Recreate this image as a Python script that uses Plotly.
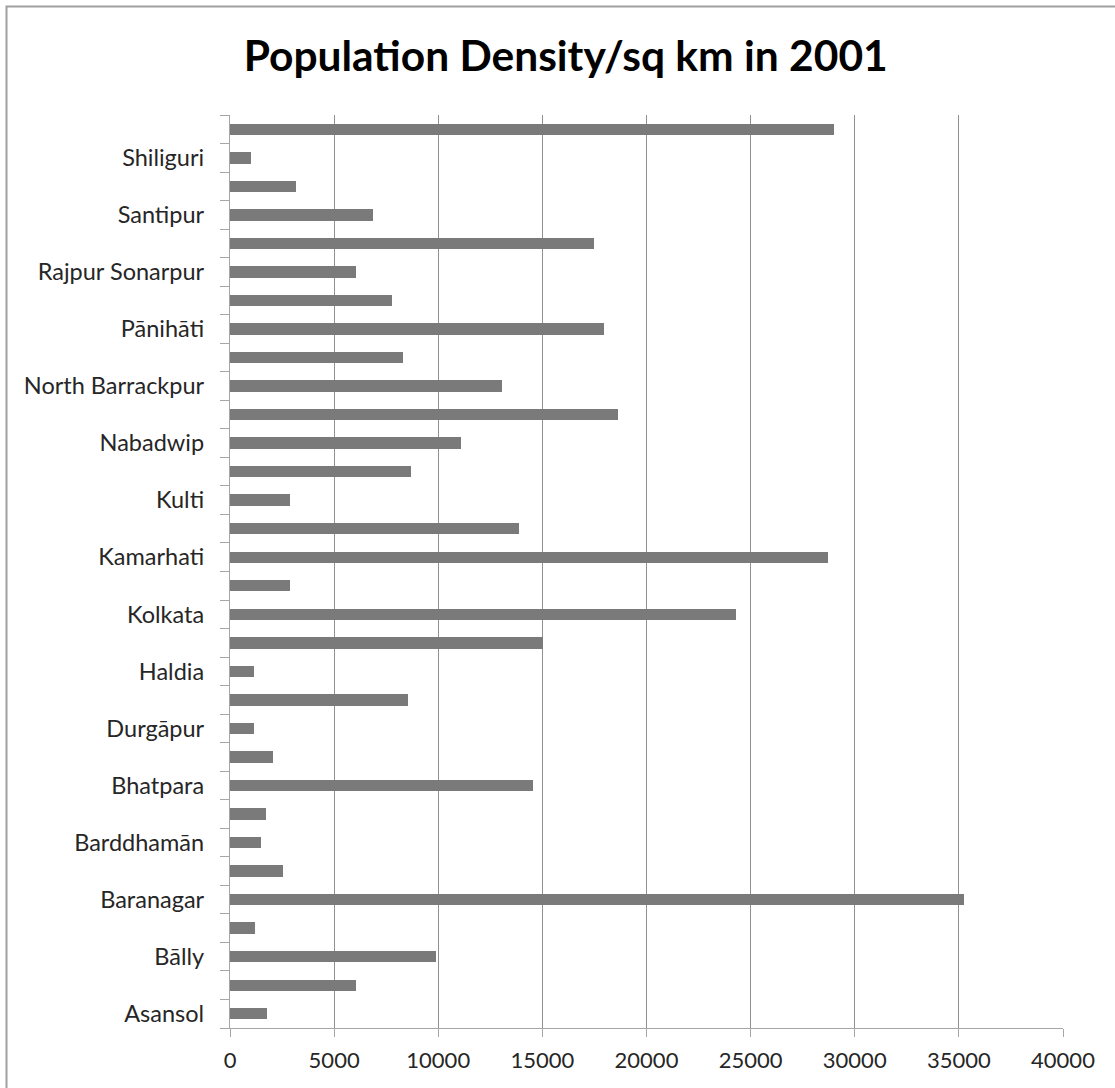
import plotly.graph_objects as go

# Cities listed bottom-to-top along the category axis
cities = [
    "Asansol", "Baharampur", "Bālly", "Bansberia", "Baranagar", "Barasat",
    "Barddhamān", "Bhadreswar", "Bhatpara", "Chandannagar", "Durgāpur",
    "Dum Dum", "Haldia", "Howrah", "Kolkata", "Kalyani", "Kamarhati",
    "Kharagpur", "Kulti", "Madhyamgram", "Nabadwip", "Naihati",
    "North Barrackpur", "North Dum Dum", "Pānihāti", "Raiganj",
    "Rajpur Sonarpur", "Rishra", "Santipur", "Serampore", "Shiliguri",
    "South Dum Dum",
]

# Population density per sq km, 2001
density = [
    1780, 6060, 9900, 1220, 35240, 2540,
    1490, 1730, 14560, 2070, 1160,
    8560, 1160, 15030, 24280, 2890, 28700,
    13880, 2890, 8700, 11110, 18650,
    13070, 8320, 17950, 7790,
    6060, 17500, 6870, 3170, 1010,
    28990,
]

x_ticks = [0, 5000, 10000, 15000, 20000, 25000, 30000, 35000, 40000]

positions = list(range(len(cities)))
label_pos = positions[::2]
label_text = cities[::2]
boundaries = [p - 0.5 for p in positions] + [positions[-1] + 0.5]

fig = go.Figure(
    go.Bar(
        x=density,
        y=positions,
        orientation="h",
        width=0.4,
        marker=dict(color="#7a7a7a", line=dict(width=0)),
        hoverinfo="x",
    )
)

fig.update_layout(
    width=1115,
    height=1088,
    margin=dict(l=230, r=52, t=115, b=60),
    paper_bgcolor="white",
    plot_bgcolor="white",
    showlegend=False,
    font=dict(family="Lato, Carlito, Calibri, sans-serif", color="#262626"),
    title=dict(
        text="<b>Population Density/sq km in 2001</b>",
        font=dict(size=42.5, color="#000000", family="Lato, Calibri, sans-serif"),
        xref="paper",
        x=0.403,
        xanchor="center",
        yref="container",
        y=1 - 56 / 1088,
        yanchor="middle",
    ),
    bargap=0,
)

fig.update_xaxes(
    range=[0, 40000],
    tickvals=x_ticks,
    ticktext=[str(v) for v in x_ticks],
    showgrid=True,
    gridcolor="#909090",
    gridwidth=1.2,
    zeroline=False,
    showline=True,
    linecolor="#a6a6a6",
    linewidth=1.3,
    ticks="outside",
    ticklen=8,
    tickcolor="#a6a6a6",
    tickfont=dict(size=22, color="#262626"),
    ticklabelstandoff=4,
)

fig.update_yaxes(
    range=[-0.5, len(cities) - 0.5],
    tickmode="array",
    tickvals=label_pos,
    ticktext=label_text,
    ticks="outside",
    ticklen=10,
    tickcolor="rgba(0,0,0,0)",
    showgrid=False,
    zeroline=False,
    showline=True,
    linecolor="#a6a6a6",
    linewidth=1.3,
    tickfont=dict(size=23.5, color="#262626"),
    ticklabelstandoff=10,
    minor=dict(
        tickmode="array",
        tickvals=boundaries,
        ticks="outside",
        ticklen=9,
        tickcolor="#a6a6a6",
        tickwidth=1.3,
        showgrid=False,
    ),
)

# Chart frame
fig.add_shape(
    type="rect",
    xref="paper", yref="paper",
    x0=(6.5 - 230) / 833, x1=(1150 - 230) / 833,
    y0=(1028 - 1120) / 913, y1=(1028 - 6.5) / 913,
    line=dict(color="#a0a0a0", width=2),
    fillcolor="rgba(0,0,0,0)",
    layer="below",
)

fig.write_html("out.html")
